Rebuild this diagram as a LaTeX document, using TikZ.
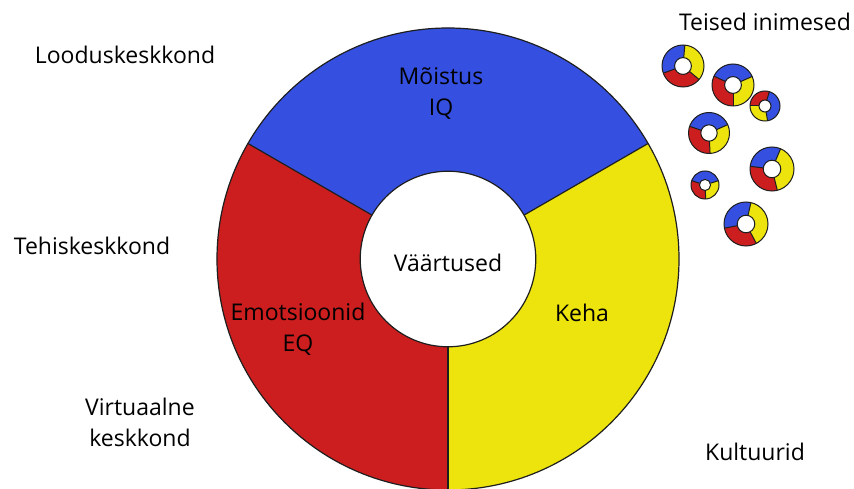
\documentclass[tikz,border=0pt]{standalone}
\usepackage{fontspec}
\setmainfont{Open Sans}
\definecolor{cblue}{RGB}{53,80,224}
\definecolor{cred}{RGB}{204,30,30}
\definecolor{cyellow}{RGB}{236,228,12}
\definecolor{cline}{RGB}{30,30,30}
\newcommand\ringratio{0.38}
\newcommand\ringseg[7]{%
  \fill[#7] ([shift={(#5:#3pt)}]#1) arc[start angle=#5, end angle=#6, radius=#3pt]
    -- ([shift={(#6:#4pt)}]#1) arc[start angle=#6, end angle=#5, radius=#4pt] -- cycle;}
% name, x, y, R, b1 (yellow/blue), b2 (blue/red), b3 (red/yellow), line width
\newcommand\ring[8]{%
  \coordinate (#1) at (#2,#3);
  \pgfmathsetmacro\rin{\ringratio*#4}%
  \ringseg{#1}{}{#4}{\rin}{#5}{#6}{cblue}%
  \ringseg{#1}{}{#4}{\rin}{#6}{#7}{cred}%
  \ringseg{#1}{}{#4}{\rin}{#7}{#5+360}{cyellow}%
  \draw[cline, line width=#8] (#1) circle[radius=#4pt];
  \draw[cline, line width=#8] (#1) circle[radius=\rin pt];
  \draw[cline, line width=#8] ([shift={(#5:\rin pt)}]#1) -- ([shift={(#5:#4pt)}]#1);
  \draw[cline, line width=#8] ([shift={(#6:\rin pt)}]#1) -- ([shift={(#6:#4pt)}]#1);
  \draw[cline, line width=#8] ([shift={(#7:\rin pt)}]#1) -- ([shift={(#7:#4pt)}]#1);
}
\begin{document}
\begin{tikzpicture}[x=1pt,y=1pt,
  lbl/.style={font=\fontsize{23}{31}\selectfont, align=center, inner sep=0pt, text=black}]
\useasboundingbox (0,0) rectangle (854,488);
\clip (0,0) rectangle (854,488);
\fill[white] (0,0) rectangle (854,488);
% big donut
\ring{big}{448}{229}{231}{30}{150}{270}{1.2pt}
% small donuts
\renewcommand\ringratio{0.4}
\ring{s1}{683}{422}{21}{85}{200}{320}{1pt}
\ring{s2}{733}{403}{21}{24}{155}{270}{1pt}
\ring{s3}{765}{382}{15}{-80}{73}{180}{1pt}
\ring{s4}{709}{355}{20.5}{24}{161}{273}{1pt}
\ring{s5}{772}{319}{22}{67}{173}{284}{1pt}
\ring{s6}{705}{303}{14}{18}{162}{273}{1pt}
\ring{s7}{746}{264}{22}{77}{191}{298}{1pt}
% labels
\node[lbl] (lood) at (125,433) {Looduskeskkond};
\node[lbl] (tehis) at (92,242) {Tehiskeskkond};
\node[lbl] (virt) at (140,66) {Virtuaalne\\keskkond};
\node[lbl] (teised) at (765,466) {Teised inimesed};
\node[lbl] (kult) at (755,36) {Kultuurid};
\node[lbl] (moistus) at (441,394) {Mõistus\\IQ};
\node[lbl] (vaart) at (448,225) {Väärtused};
\node[lbl] (emo) at (298,159) {Emotsioonid\\EQ};
\node[lbl] (keha) at (582,175) {Keha};
\end{tikzpicture}
\end{document}
